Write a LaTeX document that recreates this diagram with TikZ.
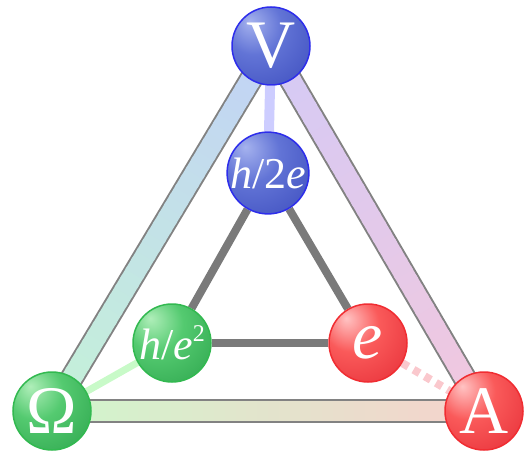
\documentclass[tikz,border=0pt]{standalone}
\usepackage{fontspec}
\setmainfont{Liberation Serif}
\usetikzlibrary{calc,backgrounds}

\definecolor{bandgray}{RGB}{130,130,130}
\definecolor{innergray}{RGB}{122,122,122}
\definecolor{lbTop}{RGB}{194,210,246}
\definecolor{lbBot}{RGB}{196,242,216}
\definecolor{rbTop}{RGB}{212,202,246}
\definecolor{rbBot}{RGB}{242,200,222}
\definecolor{bbLeft}{RGB}{208,246,204}
\definecolor{bbRight}{RGB}{246,210,204}
\definecolor{linkBlue}{RGB}{205,205,255}
\definecolor{linkGreen}{RGB}{200,250,200}
\definecolor{linkRed}{RGB}{250,200,205}

\definecolor{blueA}{RGB}{165,178,238}
\definecolor{blueB}{RGB}{98,116,214}
\definecolor{blueC}{RGB}{58,74,188}
\definecolor{blueEdge}{RGB}{45,45,235}
\definecolor{greenA}{RGB}{175,238,185}
\definecolor{greenB}{RGB}{84,202,112}
\definecolor{greenC}{RGB}{42,162,74}
\definecolor{greenEdge}{RGB}{50,185,80}
\definecolor{redA}{RGB}{255,195,195}
\definecolor{redB}{RGB}{250,90,90}
\definecolor{redC}{RGB}{228,42,52}
\definecolor{redEdge}{RGB}{240,45,50}

\pgfdeclareradialshading{ballblue}{\pgfpoint{-14bp}{16bp}}{color(0bp)=(blueA); color(18bp)=(blueB); color(48bp)=(blueC); color(80bp)=(blueC)}
\pgfdeclareradialshading{ballgreen}{\pgfpoint{-14bp}{16bp}}{color(0bp)=(greenA); color(18bp)=(greenB); color(48bp)=(greenC); color(80bp)=(greenC)}
\pgfdeclareradialshading{ballred}{\pgfpoint{-14bp}{16bp}}{color(0bp)=(redA); color(18bp)=(redB); color(48bp)=(redC); color(80bp)=(redC)}

\tikzset{
  ball/.style={circle, minimum size=78pt, inner sep=0pt, line width=1.5pt, text=white, shade},
  blueball/.style={ball, shading=ballblue, draw=blueEdge},
  greenball/.style={ball, shading=ballgreen, draw=greenEdge},
  redball/.style={ball, shading=ballred, draw=redEdge},
  bigtxt/.style={font=\fontsize{68}{68}\selectfont},
  midtxt/.style={font=\fontsize{44}{44}\selectfont},
  bandouter/.style={line width=24pt, bandgray},
  innerline/.style={line width=8pt, innergray},
}

% gradient band between two nodes: #1 -> #2, colours #3 -> #4
\newcommand\gradband[4]{%
  \draw[bandouter] (#1.center) -- (#2.center);
  \foreach \i in {0,...,39}{%
    \pgfmathsetmacro\pct{100*(\i+0.5)/40}%
    \pgfmathsetmacro\ta{\i/40}%
    \pgfmathsetmacro\tb{min(1,(\i+1.3)/40)}%
    \draw[line width=20pt, #4!\pct!#3] ($(#1.center)!\ta!(#2.center)$) -- ($(#1.center)!\tb!(#2.center)$);
  }%
}

\begin{document}
\begin{tikzpicture}[x=1pt,y=-1pt]
\useasboundingbox (0,0) rectangle (526,454);

\node[blueball, bigtxt] (V) at (271,46) {V};
\node[blueball, midtxt] (H2) at (268,173) {\itshape h\upshape/2\itshape e};
\node[greenball, midtxt] (He2) at (172,343) {\itshape h\upshape/\itshape e\upshape\raisebox{0.42em}{\fontsize{24}{24}\selectfont 2}};
\node[greenball, bigtxt] (O) at (52,411) {Ω};
\node[redball, bigtxt] (E) at (368,343) {\itshape e};
\node[redball, bigtxt] (A) at (484,411) {A};

\begin{pgfonlayer}{background}
  \gradband{O}{V}{lbBot}{lbTop}
  \gradband{A}{V}{rbBot}{rbTop}
  \gradband{O}{A}{bbLeft}{bbRight}
  % inner triangle
  \draw[innerline] (H2) -- (He2);
  \draw[innerline] (He2) -- (E);
  \draw[innerline] (E) -- (H2);
  % links between outer and inner
  \draw[line width=10pt, linkBlue] (V) -- (H2);
  \draw[line width=7pt, linkGreen] (O) -- (He2);
  \draw[line width=8pt, linkRed, dash pattern=on 7pt off 6pt] (E) -- (A);
\end{pgfonlayer}
\end{tikzpicture}
\end{document}
